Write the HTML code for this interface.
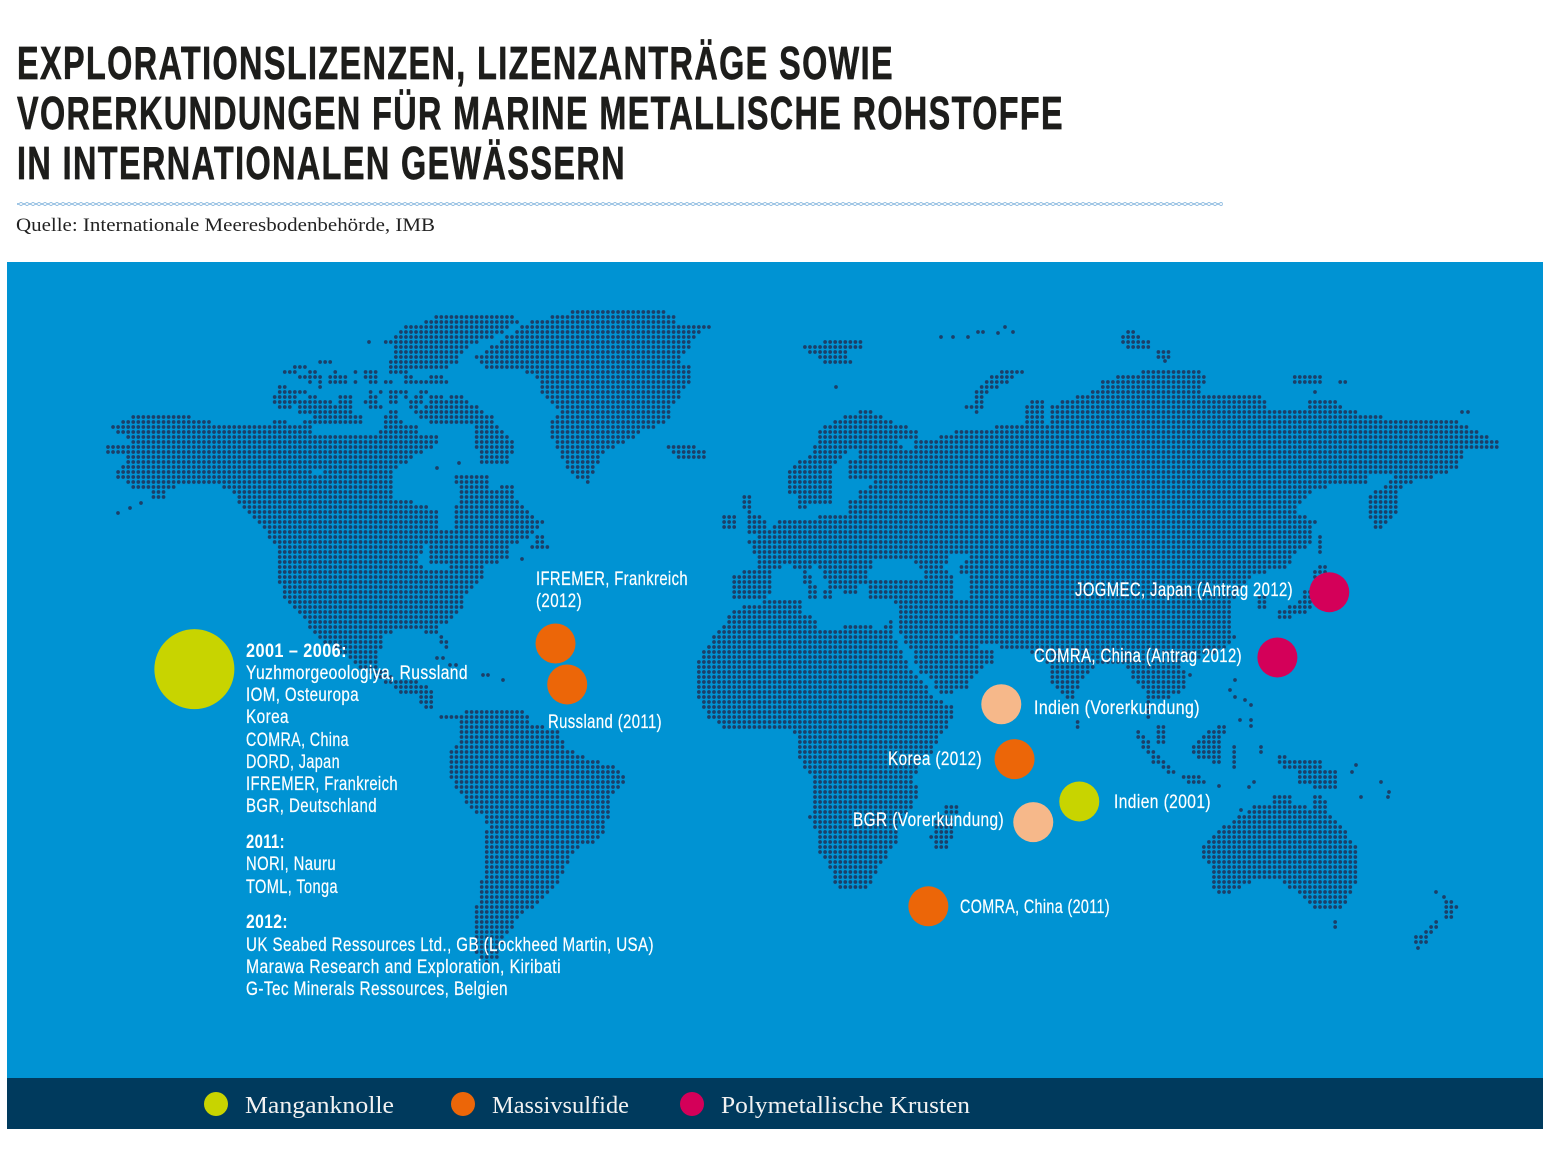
<!DOCTYPE html>
<html lang="de">
<head>
<meta charset="utf-8">
<title>Explorationslizenzen</title>
<style>
html,body{margin:0;padding:0;background:#fff}
svg{display:block}
.ttl{font-family:"Liberation Sans Narrow","Liberation Sans",sans-serif;font-weight:700;font-size:46px;letter-spacing:2px;fill:#1d1d1b;stroke:#1d1d1b;stroke-width:.7px}
.lbl{font-family:"Liberation Sans Narrow","Liberation Sans",sans-serif;font-size:19px;letter-spacing:.5px;fill:#fff;stroke:#fff;stroke-width:.2px}
.lbb{font-family:"Liberation Sans Narrow","Liberation Sans",sans-serif;font-size:19px;font-weight:700;letter-spacing:.5px;fill:#fff}
.leg{font-family:"Liberation Serif",serif;font-size:24px;fill:#f2f2f2}
</style>
</head>
<body>
<svg id="chart" xmlns="http://www.w3.org/2000/svg" width="1559" height="1156" viewBox="0 0 1559 1156">
<defs>
<pattern id="wave" width="6" height="4" patternUnits="userSpaceOnUse" y="202">
<path d="M0 2 L3 0.4 L6 2 L3 3.6 Z" fill="none" stroke="#7fb2dc" stroke-width="0.8"/>
</pattern>
</defs>
<rect width="1559" height="1156" fill="#fff"/>
<g>
<text class="ttl" x="17" y="79" textLength="877" lengthAdjust="spacingAndGlyphs">EXPLORATIONSLIZENZEN, LIZENZANTRÄGE SOWIE</text>
<text class="ttl" x="17" y="129" textLength="1047" lengthAdjust="spacingAndGlyphs">VORERKUNDUNGEN FÜR MARINE METALLISCHE ROHSTOFFE</text>
<text class="ttl" x="17" y="179" textLength="609" lengthAdjust="spacingAndGlyphs">IN INTERNATIONALEN GEWÄSSERN</text>
</g>
<rect x="17" y="202" width="1206" height="4" fill="url(#wave)"/>
<text x="16" y="231" textLength="419" lengthAdjust="spacingAndGlyphs" style="font-family:'Liberation Serif',serif;font-size:19px;fill:#222">Quelle: Internationale Meeresbodenbehörde, IMB</text>

<rect x="7" y="262" width="1536" height="817" fill="#0093d3"/>
<rect x="7" y="1078" width="1536" height="51" fill="#003a5d"/>
<g id="land"></g>
<g id="sites"></g>

<g>
<text class="lbb" x="246" y="657" textLength="101" lengthAdjust="spacingAndGlyphs">2001 – 2006:</text>
<text class="lbl" x="246" y="679" textLength="222" lengthAdjust="spacingAndGlyphs">Yuzhmorgeoologiya, Russland</text>
<text class="lbl" x="246" y="701" textLength="113" lengthAdjust="spacingAndGlyphs">IOM, Osteuropa</text>
<text class="lbl" x="246" y="723" textLength="43" lengthAdjust="spacingAndGlyphs">Korea</text>
<text class="lbl" x="246" y="746" textLength="103" lengthAdjust="spacingAndGlyphs">COMRA, China</text>
<text class="lbl" x="246" y="768" textLength="94" lengthAdjust="spacingAndGlyphs">DORD, Japan</text>
<text class="lbl" x="246" y="790" textLength="152" lengthAdjust="spacingAndGlyphs">IFREMER, Frankreich</text>
<text class="lbl" x="246" y="812" textLength="131" lengthAdjust="spacingAndGlyphs">BGR, Deutschland</text>
<text class="lbb" x="246" y="848" textLength="39" lengthAdjust="spacingAndGlyphs">2011:</text>
<text class="lbl" x="246" y="870" textLength="90" lengthAdjust="spacingAndGlyphs">NORI, Nauru</text>
<text class="lbl" x="246" y="893" textLength="92" lengthAdjust="spacingAndGlyphs">TOML, Tonga</text>
<text class="lbb" x="246" y="928" textLength="42" lengthAdjust="spacingAndGlyphs">2012:</text>
<text class="lbl" x="246" y="951" textLength="408" lengthAdjust="spacingAndGlyphs">UK Seabed Ressources Ltd., GB (Lockheed Martin, USA)</text>
<text class="lbl" x="246" y="973" textLength="315" lengthAdjust="spacingAndGlyphs">Marawa Research and Exploration, Kiribati</text>
<text class="lbl" x="246" y="995" textLength="262" lengthAdjust="spacingAndGlyphs">G-Tec Minerals Ressources, Belgien</text>
</g>

<g>
<text class="lbl" x="536" y="585" textLength="152" lengthAdjust="spacingAndGlyphs">IFREMER, Frankreich</text>
<text class="lbl" x="536" y="607" textLength="46" lengthAdjust="spacingAndGlyphs">(2012)</text>
<text class="lbl" x="548" y="728" textLength="114" lengthAdjust="spacingAndGlyphs">Russland (2011)</text>
<text class="lbl" x="1075" y="596" textLength="218" lengthAdjust="spacingAndGlyphs">JOGMEC, Japan (Antrag 2012)</text>
<text class="lbl" x="1034" y="662" textLength="208" lengthAdjust="spacingAndGlyphs">COMRA, China (Antrag 2012)</text>
<text class="lbl" x="1034" y="714" textLength="166" lengthAdjust="spacingAndGlyphs">Indien (Vorerkundung)</text>
<text class="lbl" x="888" y="765" textLength="94" lengthAdjust="spacingAndGlyphs">Korea (2012)</text>
<text class="lbl" x="853" y="826" textLength="151" lengthAdjust="spacingAndGlyphs">BGR (Vorerkundung)</text>
<text class="lbl" x="1114" y="808" textLength="97" lengthAdjust="spacingAndGlyphs">Indien (2001)</text>
<text class="lbl" x="960" y="913" textLength="150" lengthAdjust="spacingAndGlyphs">COMRA, China (2011)</text>
</g>

<g>
<circle cx="216" cy="1104" r="12" fill="#c8d400"/>
<text class="leg" x="245" y="1113" textLength="149" lengthAdjust="spacingAndGlyphs">Manganknolle</text>
<circle cx="463" cy="1104" r="12" fill="#ec6608"/>
<text class="leg" x="492" y="1113" textLength="137" lengthAdjust="spacingAndGlyphs">Massivsulfide</text>
<circle cx="692" cy="1104" r="12" fill="#d40059"/>
<text class="leg" x="721" y="1113" textLength="249" lengthAdjust="spacingAndGlyphs">Polymetallische Krusten</text>
</g>
</svg>
<script>
// Marker data, in the map's own lon/lat units
var siteNames = ["licence-cluster","ifremer","russland","jogmec","comra-antrag","indien-vorerkundung","korea","indien-2001","bgr","comra-2011"];
var siteLon = [-147.7,-55.1,-52.1,143.3,130,59.2,62.6,79.2,67.4,40.5];
var siteLat = [-15.3,-9.6,-18.7,1.8,-12.7,-23.1,-35.3,-44.7,-49.3,-68];
var siteType = ["mangan","sulfid","sulfid","kruste","kruste","vorerkundung","sulfid","mangan","vorerkundung","sulfid"];
var siteWeight = [4,1,1,1,1,1,1,1,1,1];
var typeColors = {mangan:"#c8d400",sulfid:"#ec6608",kruste:"#d40059",vorerkundung:"#f6b88a"};

// Base-map outlines (geography, rasterised into the dot grid)
var landPolygons = [
[[133,417],[112,427],[118,433],[131,443],[106,445],[106,453],[129,456],[118,468],[118,478],[133,488],[153,490],[147,500],[165,500],[165,492],[182,483],[206,483],[222,487],[235,493],[237,500],[247,510],[255,520],[263,527],[269,538],[277,547],[280,590],[286,600],[296,610],[306,620],[312,633],[320,640],[345,655],[360,668],[380,680],[400,692],[415,695],[425,712],[433,712],[433,690],[417,682],[395,678],[378,665],[381,650],[385,633],[414,630],[432,633],[440,640],[442,650],[449,650],[449,640],[435,628],[451,620],[463,610],[467,593],[483,580],[483,565],[508,560],[508,547],[532,535],[545,523],[532,513],[516,500],[512,483],[492,490],[488,477],[455,472],[459,500],[452,512],[452,530],[441,530],[439,513],[428,507],[418,503],[394,497],[394,473],[400,465],[420,455],[428,450],[440,445],[440,433],[418,433],[418,427],[382,427],[380,433],[345,437],[312,437],[312,425],[226,425],[214,423],[186,415]],
[[441,313],[514,313],[520,322],[505,328],[500,335],[470,345],[455,365],[445,369],[385,369],[395,350],[385,342],[405,327],[425,322]],
[[537,320],[586,308],[659,308],[675,315],[675,324],[712,324],[712,329],[700,333],[692,343],[679,360],[690,367],[690,382],[683,390],[675,403],[671,413],[667,423],[643,432],[622,443],[602,453],[596,473],[588,483],[575,477],[561,460],[553,440],[547,423],[561,412],[545,400],[537,378],[524,372],[488,372],[475,357],[512,333],[515,328]],
[[667,446],[695,446],[708,452],[708,460],[680,460]],
[[476,420],[494,420],[516,443],[508,463],[480,463],[475,443]],
[[536,535],[542,535],[553,550],[531,550]],
[[467,708],[523,708],[532,723],[557,730],[565,747],[587,757],[610,765],[622,772],[626,780],[613,797],[610,813],[605,830],[593,842],[580,847],[570,860],[563,873],[555,887],[540,903],[520,917],[513,927],[503,940],[500,957],[487,963],[472,953],[472,927],[477,902],[482,880],[485,853],[487,827],[482,817],[467,803],[455,787],[447,773],[447,755],[458,740],[462,723],[453,718],[437,718],[437,713],[462,713]],
[[724,623],[732,613],[738,608],[764,601],[801,601],[804,613],[817,618],[820,628],[838,630],[845,622],[855,625],[880,628],[891,620],[894,630],[896,640],[902,650],[907,660],[912,670],[923,680],[928,690],[939,700],[957,710],[952,720],[939,737],[931,753],[918,763],[915,777],[918,797],[902,820],[899,837],[889,853],[878,870],[867,889],[836,889],[830,870],[820,853],[820,837],[809,820],[814,797],[814,777],[801,763],[799,753],[799,737],[790,730],[756,730],[722,727],[711,720],[703,710],[698,700],[698,660],[703,650],[711,640]],
[[948,803],[958,803],[955,825],[949,845],[940,853],[932,850],[931,835],[936,822]],
[[873,411],[889,421],[907,426],[923,435],[918,440],[934,440],[957,430],[992,428],[1000,423],[1023,425],[1023,410],[1030,403],[1040,395],[1046,401],[1046,423],[1052,423],[1052,403],[1075,400],[1077,395],[1098,390],[1103,380],[1124,375],[1148,370],[1201,370],[1206,375],[1203,390],[1200,395],[1246,395],[1262,395],[1267,405],[1272,410],[1308,410],[1308,400],[1333,400],[1347,410],[1372,415],[1398,420],[1415,418],[1455,418],[1465,425],[1484,435],[1500,440],[1500,447],[1495,452],[1462,452],[1460,470],[1440,473],[1431,480],[1405,483],[1389,473],[1370,477],[1368,485],[1310,488],[1312,492],[1294,510],[1307,517],[1317,523],[1310,530],[1310,543],[1294,557],[1288,567],[1250,577],[1238,593],[1230,610],[1235,640],[1225,650],[1200,657],[1177,663],[1188,670],[1188,680],[1185,690],[1166,700],[1153,702],[1153,722],[1148,722],[1148,700],[1143,690],[1135,680],[1124,663],[1100,663],[1082,680],[1072,700],[1066,700],[1050,680],[1047,663],[1030,652],[1000,647],[965,643],[957,630],[955,640],[992,650],[992,663],[981,670],[971,680],[965,690],[945,693],[933,690],[931,680],[918,670],[915,660],[912,650],[902,640],[899,630],[900,608],[902,603],[870,600],[865,583],[857,583],[855,595],[842,595],[838,580],[833,600],[824,600],[826,578],[815,566],[808,568],[820,595],[812,600],[808,595],[800,572],[788,565],[772,572],[772,590],[765,600],[732,600],[730,573],[758,570],[759,558],[754,552],[746,543],[761,533],[777,523],[790,518],[846,516],[846,503],[859,497],[859,488],[875,486],[875,481],[846,481],[846,461],[857,458],[860,450],[849,450],[843,458],[836,463],[833,472],[833,505],[810,507],[806,500],[806,510],[797,510],[798,497],[790,493],[785,490],[785,473],[796,463],[806,458],[812,450],[817,443],[817,433],[822,428],[830,423],[859,411]],
[[1394,480],[1407,480],[1399,490],[1397,512],[1383,525],[1376,533],[1369,515],[1370,493],[1383,486]],
[[740,493],[750,493],[750,512],[767,520],[767,533],[748,533],[748,512],[740,505]],
[[724,513],[738,513],[738,530],[724,530]],
[[833,340],[867,340],[860,348],[845,353],[852,363],[828,367],[820,360],[809,352],[804,346]],
[[1010,369],[1027,369],[1012,380],[1000,385],[985,397],[980,412],[980,415],[975,415],[966,407],[973,405],[973,395],[980,385],[992,375]],
[[1291,375],[1323,375],[1323,383],[1291,383]],
[[1336,380],[1347,380],[1347,384],[1336,384]],
[[1124,330],[1135,330],[1141,340],[1151,342],[1150,350],[1135,350],[1119,345]],
[[1156,350],[1170,350],[1170,358],[1155,358]],
[[1317,533],[1323,533],[1323,555],[1317,555]],
[[1315,567],[1330,567],[1328,578],[1313,578]],
[[1313,590],[1310,610],[1290,618],[1278,618],[1278,610],[1298,603],[1305,590]],
[[1258,597],[1268,597],[1268,608],[1258,608]],
[[1073,719],[1081,719],[1081,728],[1073,728]],
[[1133,730],[1140,730],[1163,760],[1175,772],[1170,773],[1155,765],[1145,750]],
[[1156,722],[1165,728],[1167,745],[1160,748],[1155,735]],
[[1220,723],[1232,730],[1224,735],[1220,765],[1210,762],[1192,755],[1190,745],[1200,740],[1207,733]],
[[1230,745],[1237,745],[1237,770],[1230,770]],
[[1177,774],[1195,774],[1208,780],[1208,784],[1190,784]],
[[1275,755],[1283,755],[1290,760],[1320,760],[1323,770],[1338,772],[1340,788],[1320,788],[1299,785],[1299,770],[1282,767]],
[[1270,795],[1291,795],[1291,805],[1312,808],[1315,795],[1323,795],[1330,815],[1341,825],[1349,837],[1358,850],[1358,880],[1349,895],[1347,903],[1338,910],[1315,910],[1309,903],[1300,893],[1288,890],[1283,882],[1250,882],[1243,888],[1222,895],[1214,893],[1213,870],[1203,860],[1203,845],[1215,833],[1240,815],[1255,805],[1270,805]],
[[1331,920],[1339,920],[1339,930],[1331,930]],
[[1445,900],[1450,900],[1459,906],[1452,920],[1441,918],[1445,908]],
[[1437,920],[1440,925],[1430,937],[1428,945],[1413,945],[1415,937],[1425,932]]
];
// Canadian Arctic archipelago outline, row by row: latitude row, west edge, east edge
var arcticRuns = [
[362,320,332],[367,295,305],
[372,285,295],[372,310,315],[372,335,335],[372,357,357],[372,365,377],[372,392,408],
[377,300,315],[377,320,320],[377,330,347],[377,365,377],[377,407,412],[377,433,443],
[382,310,310],[382,320,320],[382,330,347],[382,357,357],[382,370,377],[382,387,392],[382,407,447],
[387,280,285],[387,320,320],
[392,280,305],[392,370,370],[392,382,382],[392,392,407],[392,422,427],
[397,275,295],[397,310,315],[397,340,350],[397,370,377],[397,392,397],[397,407,407],[397,417,423],[397,432,443],[397,452,463],
[402,275,295],[402,300,330],[402,340,350],[402,365,377],[402,392,397],[402,412,423],[402,432,468],
[407,280,290],[407,300,350],[407,370,382],[407,412,417],[407,427,477],
[412,300,353],[412,392,397],[412,417,483],
[417,315,363],[417,387,397],[417,423,493],
[422,275,285],[422,305,363],[422,385,402],[422,430,440],[422,447,493]
];
var lakePolygons = [
[[312,470],[324,470],[324,477],[312,477]],
[[422,547],[431,547],[431,562],[448,565],[448,572],[426,572],[420,565]],
[[873,558],[910,558],[925,575],[925,582],[868,582],[870,575]],
[[950,555],[971,552],[960,565],[960,575],[971,578],[971,600],[955,600],[955,578],[944,570]],
[[900,440],[915,442],[916,447],[905,452]]
];
var islandDots = [[118,513],[130,508],[141,503],[369,342],[437,468],[459,463],[522,559],[437,658],[443,658],[450,665],[456,665],[483,675],[488,675],[503,680],[941,337],[953,337],[968,337],[978,332],[983,332],[998,333],[1005,327],[1013,332],[1315,392],[1165,361],[1462,412],[1468,412],[836,387],[1190,675],[1235,680],[1230,690],[1235,697],[1245,700],[1251,705],[1240,720],[1251,720],[1251,726],[1261,747],[1261,752],[1219,786],[1254,782],[1249,787],[1356,765],[1352,772],[1381,782],[1389,792],[1388,797],[1361,797],[1418,948],[1436,892],[1444,897],[1241,810]];

var gridX0 = 108, gridY0 = 312, gridDX = 5.05, gridDY = 5, dotR = 1.85;
arcticRuns.forEach(function(r){
  landPolygons.push([[r[1]-2,r[0]-1],[r[2]+2,r[0]-1],[r[2]+2,r[0]+1],[r[1]-2,r[0]+1]]);
});
function inside(pt, poly){
  var c = false;
  for (var i = 0, j = poly.length - 1; i < poly.length; j = i++){
    var a = poly[i], b = poly[j];
    if ((a[1] > pt[1]) !== (b[1] > pt[1]) && pt[0] < (b[0]-a[0])*(pt[1]-a[1])/(b[1]-a[1]) + a[0]) c = !c;
  }
  return c;
}
function isLand(pt){
  var k;
  for (k = 0; k < lakePolygons.length; k++) if (inside(pt, lakePolygons[k])) return false;
  for (k = 0; k < landPolygons.length; k++) if (inside(pt, landPolygons[k])) return true;
  return false;
}
function dotPath(x, y){
  var r = dotR;
  return "M"+(x-r).toFixed(2)+" "+y.toFixed(2)+"a"+r+" "+r+" 0 1 0 "+(2*r)+" 0a"+r+" "+r+" 0 1 0 "+(-2*r)+" 0";
}
var NS = "http://www.w3.org/2000/svg";
var d = [];
for (var ry = 0; gridY0 + ry*gridDY <= 965; ry++){
  for (var cx = 0; gridX0 + cx*gridDX <= 1512; cx++){
    var p = [gridX0 + cx*gridDX, gridY0 + ry*gridDY];
    if (isLand(p)) d.push(dotPath(p[0], p[1]));
  }
}
islandDots.forEach(function(q){ d.push(dotPath(q[0], q[1])); });
var landPath = document.createElementNS(NS, "path");
landPath.setAttribute("d", d.join(""));
landPath.setAttribute("fill", "#1c3f68");


document.getElementById("land").appendChild(landPath);

function lonToX(lon){ return 770.4 + lon*3.9; }
function latToY(lat){ return 600.3 - lat*4.5; }
function weightToR(w){ return 20*Math.sqrt(w); }
var siteLayer = document.getElementById("sites");
siteNames.forEach(function(name, i){
  var c = document.createElementNS(NS, "circle");
  c.setAttribute("cx", lonToX(siteLon[i]));
  c.setAttribute("cy", latToY(siteLat[i]));
  c.setAttribute("r", weightToR(siteWeight[i]));
  c.setAttribute("fill", typeColors[siteType[i]]);
  
  
  siteLayer.appendChild(c);
});
</script>
</body>
</html>
